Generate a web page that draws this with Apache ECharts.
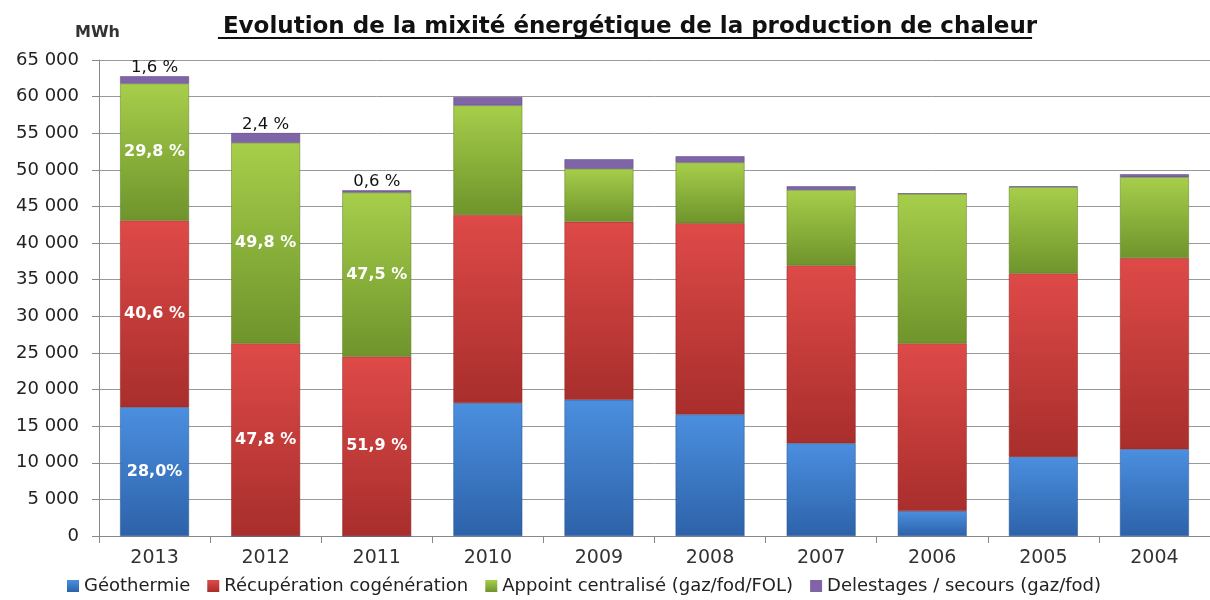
<!DOCTYPE html>
<html>
<head>
<meta charset="utf-8">
<script src="https://cdn.jsdelivr.net/npm/echarts@6/dist/echarts.min.js"></script>
<style>html,body{margin:0;padding:0;background:#fff;}#c{width:1210px;height:600px;}</style>
</head>
<body>
<div id="c"></div>
<script>
const years = ['2013','2012','2011','2010','2009','2008','2007','2006','2005','2004'];
const geothermie   = [17580, 0, 0, 18150, 18600, 16600, 12650, 3400, 10800, 11850];
const recuperation = [25500, 26300, 24500, 25700, 24300, 26100, 24300, 22900, 25050, 26100];
const appoint      = [18700, 27400, 22400, 14950, 7250, 8300, 10300, 20450, 11800, 11050];
const delestages   = [1000, 1320, 300, 1150, 1300, 850, 500, 0, 100, 400];
const geoLabels    = ['28,0%', '', '', '', '', '', '', '', '', ''];
const recLabels    = ['40,6 %', '47,8 %', '51,9 %', '', '', '', '', '', '', ''];
const appLabels    = ['29,8 %', '49,8 %', '47,5 %', '', '', '', '', '', '', ''];
const delLabels    = ['1,6 %', '2,4 %', '0,6 %', '', '', '', '', '', '', ''];
const yTicks = { min: 0, max: 65000, interval: 5000 };
const seriesNames = ['Géothermie', 'Récupération cogénération', 'Appoint centralisé (gaz/fod/FOL)', 'Delestages / secours (gaz/fod)'];
const titleText = 'Evolution de la mixité énergétique de la production de chaleur';
const unitText = 'MWh';

const FONT = '"DejaVu Sans", sans-serif';
const TITLE_SIZE = 23;
const TITLE_CX = 625;
const mctx = document.createElement('canvas').getContext('2d');
mctx.font = 'bold ' + TITLE_SIZE + 'px ' + FONT;
const titleW = mctx.measureText(titleText).width;

function grad(top, bottom) {
  return { type: 'linear', x: 0, y: 0, x2: 0, y2: 1, colorStops: [
    { offset: 0, color: top }, { offset: 1, color: bottom } ] };
}
function fmtNum(v) {
  return String(v).replace(/\B(?=(\d{3})+(?!\d))/g, ' ');
}
function inLabel(arr) {
  return { show: true, position: 'inside', color: '#fff', fontWeight: 'bold', fontSize: 16,
           fontFamily: FONT, formatter: p => arr[p.dataIndex] };
}
const chart = echarts.init(document.getElementById('c'));
const common = { type: 'bar', stack: 'total', barCategoryGap: '38%' };
chart.setOption({
  animation: false,
  backgroundColor: '#fff',
  title: {
    text: titleText,
    left: TITLE_CX, textAlign: 'center', top: 11,
    textStyle: { fontFamily: FONT, fontSize: TITLE_SIZE, fontWeight: 'bold', color: '#111' }
  },
  graphic: [
    { type: 'line', shape: { x1: TITLE_CX - titleW / 2, y1: 38, x2: TITLE_CX + titleW / 2, y2: 38 },
      style: { stroke: '#111', lineWidth: 2 } },
    { type: 'text', left: 75, top: 25, style: { text: unitText, font: 'bold 16px ' + FONT, fill: '#333' } }
  ],
  legend: {
    data: seriesNames, bottom: 0, left: 62, icon: 'rect', itemWidth: 12, itemHeight: 12, itemGap: 17,
    itemStyle: { borderWidth: 0 },
    textStyle: { fontFamily: FONT, fontSize: 18, color: '#222' }
  },
  grid: { left: 99, right: -9, top: 60, bottom: 64, containLabel: false },
  xAxis: {
    type: 'category', data: years,
    axisLine: { lineStyle: { color: '#888' } },
    axisTick: { show: true, length: 7, lineStyle: { color: '#888' } },
    axisLabel: { fontFamily: FONT, fontSize: 19, color: '#333', margin: 13 }
  },
  yAxis: {
    type: 'value', min: yTicks.min, max: yTicks.max, interval: yTicks.interval,
    axisLine: { show: true, lineStyle: { color: '#888' } },
    axisTick: { show: true, length: 7, lineStyle: { color: '#888' } },
    splitLine: { lineStyle: { color: '#999', width: 1 } },
    axisLabel: { fontFamily: FONT, fontSize: 18, color: '#222', margin: 20, formatter: fmtNum }
  },
  series: [
    Object.assign({}, common, { name: seriesNames[0], data: geothermie,
      itemStyle: { color: grad('#4b8fdf', '#2d62a9'), borderColor: '#2a5590', borderWidth: 0.5 },
      label: inLabel(geoLabels) }),
    Object.assign({}, common, { name: seriesNames[1], data: recuperation,
      itemStyle: { color: grad('#de4a48', '#a82e2c'), borderColor: '#8e2826', borderWidth: 0.5 },
      label: inLabel(recLabels) }),
    Object.assign({}, common, { name: seriesNames[2], data: appoint,
      itemStyle: { color: grad('#a7ce4a', '#6e942c'), borderColor: '#5d7d26', borderWidth: 0.5 },
      label: inLabel(appLabels) }),
    Object.assign({}, common, { name: seriesNames[3], data: delestages,
      itemStyle: { color: '#8064a8', borderColor: '#5a4480', borderWidth: 0.5 },
      label: { show: true, position: 'top', distance: 0, color: '#111', fontSize: 16.5, fontFamily: FONT,
               formatter: p => delLabels[p.dataIndex] } })
  ]
});
</script>
</body>
</html>
